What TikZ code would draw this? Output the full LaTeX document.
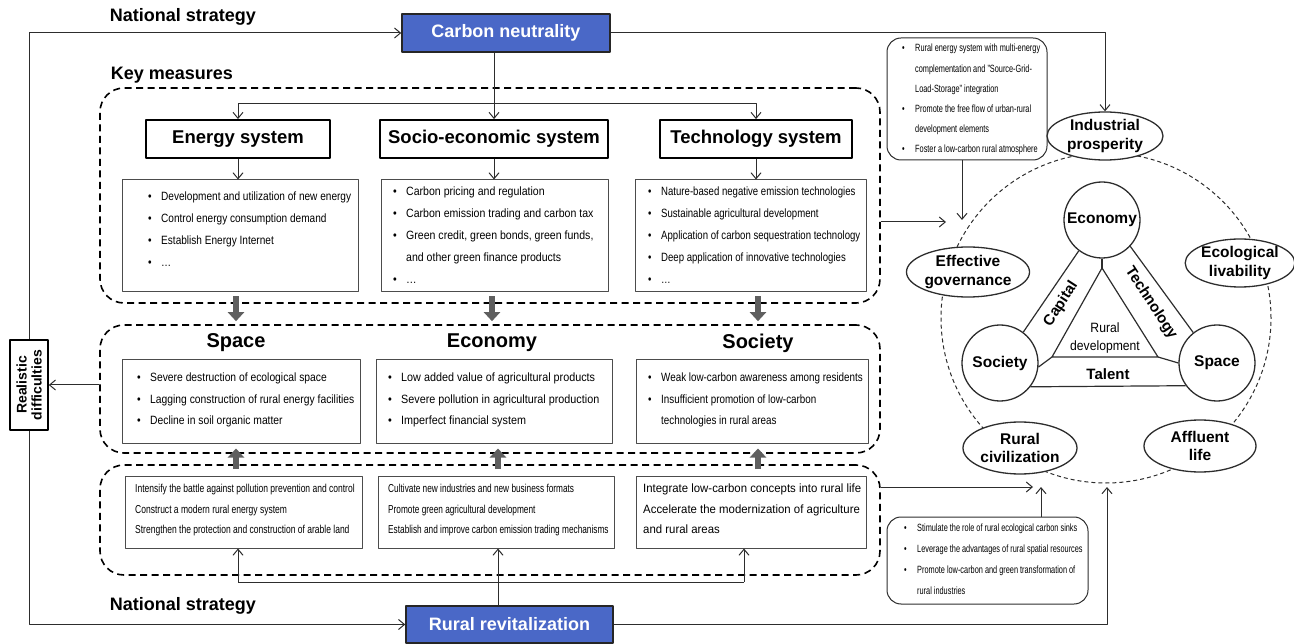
\documentclass[tikz,border=0pt]{standalone}
\usepackage{fontspec}
\setmainfont{Liberation Sans}
\usetikzlibrary{arrows.meta,shapes.geometric,calc}
\definecolor{cnblue}{RGB}{74,104,199}
\definecolor{lc}{RGB}{45,45,45}
\definecolor{garr}{RGB}{95,95,95}
\newlength\bw
\setlength\bw{13pt}
\newcommand\myb[1]{\makebox[\bw][l]{\textbullet}#1}
\newcommand\myc[1]{\hspace*{\bw}#1}
\newcommand\fs[3]{\fontsize{#1}{#2}\selectfont\addfontfeatures{FakeStretch=#3}}
\begin{document}
\begin{tikzpicture}[x=1pt,y=-1pt,line join=round,
  arr/.style={draw=lc,line width=1pt,-{Straight Barb[length=6pt,width=10pt]}},
  ln/.style={draw=lc,line width=1pt},
  garrow/.style={draw=garr,line width=6pt,-{Triangle[length=9pt,width=16pt]}},
  lab/.style={font=\fontsize{18}{20}\selectfont\bfseries},
  lab2/.style={font=\fontsize{20}{22}\selectfont\bfseries},
  bluebox/.style={draw=black!85,line width=1.5pt,fill=cnblue,text=white,font=\fontsize{18}{20}\selectfont\bfseries},
  dbox/.style={draw=black,line width=1.6pt,dash pattern=on 7pt off 4.5pt,rounded corners=24pt},
  hbox/.style={draw=black,line width=1.8pt,font=\fontsize{18.5}{20}\selectfont\bfseries,inner sep=0},
  cbox/.style={draw=black!70,line width=1pt},
  nbox/.style={draw=lc,line width=1pt,rounded corners=14pt},
  txt/.style={anchor=north west,inner sep=0,align=left},
  ell/.style={draw=lc,line width=1.3pt,ellipse,fill=white,inner sep=0,align=center,font=\fontsize{15.5}{18.5}\selectfont\bfseries},
  cir/.style={draw=lc,line width=1.3pt,circle,minimum size=76pt,inner sep=0,font=\fontsize{15.5}{18}\selectfont\bfseries},
  tl/.style={draw=lc,line width=1.2pt},
  rdbox/.style={draw=black,line width=1.5pt,align=center,inner sep=0,font=\fontsize{14}{15}\selectfont\bfseries}
]
\useasboundingbox (0,0) rectangle (1294,644);

% ---------- top ----------
\node[lab] (ns1) at (183,17) {National strategy};
\node[bluebox,minimum width=208pt,minimum height=38pt] (cn) at (506,33) {Carbon neutrality};
\node[lab] (km) at (172,75) {Key measures};

\node[rdbox,rotate=90,minimum width=90pt,minimum height=38pt] (rd) at (29,385) {Realistic\\difficulties};

% ---------- dashed groups ----------
\node[dbox,minimum width=780pt,minimum height=215pt] (D1) at (490,195.5) {};
\node[dbox,minimum width=780pt,minimum height=128pt] (D2) at (490,389) {};
\node[dbox,minimum width=780pt,minimum height=110pt] (D3) at (490,520) {};

% ---------- row 1 ----------
\node[hbox,minimum width=184pt,minimum height=38pt] (es) at (238,139) {Energy system};
\node[hbox,minimum width=228pt,minimum height=38pt] (ses) at (494,139) {Socio-economic system};
\node[hbox,minimum width=192pt,minimum height=38pt] (ts) at (756,139) {Technology system};

\node[cbox,minimum width=236pt,minimum height=112pt] (e1) at (240,236) {};
\node[cbox,minimum width=227pt,minimum height=112pt] (s1) at (494.5,236) {};
\node[cbox,minimum width=231pt,minimum height=112pt] (t1) at (750.5,236) {};

\node[txt,font=\fs{12}{22}{0.84}] (e1t) at (148,192) {\myb{Development and utilization of new energy}\\\myb{Control energy consumption demand}\\\myb{Establish Energy Internet}\\\myb{…}};
\node[txt,font=\fs{12}{22}{0.88}] (s1t) at (393,187) {\myb{Carbon pricing and regulation}\\\myb{Carbon emission trading and carbon tax}\\\myb{Green credit, green bonds, green funds,}\\\myc{and other green finance products}\\\myb{…}};
\node[txt,font=\fs{12}{22}{0.80}] (t1t) at (648,187) {\myb{Nature-based negative emission technologies}\\\myb{Sustainable agricultural development}\\\myb{Application of carbon sequestration technology}\\\myb{Deep application of innovative technologies}\\\myb{…}};

\coordinate (dist) at (494,104);
\draw[arr] (cn.south -| ses.north) -- (ses.north);
\draw[arr] (dist) -| (es.north);
\draw[arr] (dist) -| (ts.north);
\draw[arr] (es.south) -- (es.south |- e1.north);
\draw[arr] (ses.south) -- (ses.south |- s1.north);
\draw[arr] (ts.south) -- (ts.south |- t1.north);

% ---------- row 2 ----------
\node[lab2] (spH) at (236,343) {Space};
\node[lab2] (ecH) at (492,343) {Economy};
\node[lab2] (soH) at (758,343) {Society};

\node[cbox,minimum width=238pt,minimum height=83pt] (sp2) at (241,401.5) {};
\node[cbox,minimum width=236pt,minimum height=83pt] (ec2) at (494,401.5) {};
\node[cbox,minimum width=232pt,minimum height=83pt] (so2) at (752,401.5) {};

\node[txt,font=\fs{12}{21.5}{0.86}] (sp2t) at (137,373) {\myb{Severe destruction of ecological space}\\\myb{Lagging construction of rural energy facilities}\\\myb{Decline in soil organic matter}};
\node[txt,font=\fs{12}{21.5}{0.90}] (ec2t) at (388,373) {\myb{Low added value of agricultural products}\\\myb{Severe pollution in agricultural production}\\\myb{Imperfect financial system}};
\node[txt,font=\fs{12}{21.5}{0.82}] (so2t) at (648,373) {\myb{Weak low-carbon awareness among residents}\\\myb{Insufficient promotion of low-carbon}\\\myc{technologies in rural areas}};

\draw[garrow,shorten <=4pt,shorten >=3pt] (spH |- e1.south) -- (spH |- D2.north);
\draw[garrow,shorten <=4pt,shorten >=3pt] (ecH |- s1.south) -- (ecH |- D2.north);
\draw[garrow,shorten <=4pt,shorten >=3pt] (soH |- t1.south) -- (soH |- D2.north);

% ---------- row 3 ----------
\node[cbox,minimum width=237pt,minimum height=72pt] (b3l) at (243.5,512) {};
\node[cbox,minimum width=236pt,minimum height=72pt] (b3m) at (496,512) {};
\node[cbox,minimum width=230pt,minimum height=72pt] (b3r) at (751,512) {};

\node[txt,font=\fs{11.5}{20.5}{0.74}] (b3lt) at (135,484) {Intensify the battle against pollution prevention and control\\Construct a modern rural energy system\\Strengthen the protection and construction of arable land};
\node[txt,font=\fs{11.5}{20.5}{0.72}] (b3mt) at (388,484) {Cultivate new industries and new business formats\\Promote green agricultural development\\Establish and improve carbon emission trading mechanisms};
\node[txt,font=\fs{12}{20.5}{0.95}] (b3rt) at (643,484) {Integrate low-carbon concepts into rural life\\Accelerate the modernization of agriculture\\and rural areas};

\draw[garrow,shorten >=5pt] ([yshift=-5pt]spH |- D3.north) -- (spH |- sp2.south);
\draw[garrow,shorten >=5pt] ([xshift=6pt,yshift=-5pt]ecH |- D3.north) -- ([xshift=6pt]ecH |- ec2.south);
\draw[garrow,shorten >=5pt] ([yshift=-5pt]soH |- D3.north) -- (soH |- so2.south);

% ---------- bottom ----------
\node[lab] (ns2) at (183,606) {National strategy};
\node[bluebox,minimum width=207pt,minimum height=37pt] (rr) at (509.5,624.5) {Rural revitalization};

\coordinate (bdl) at (238,582);
\coordinate (bdm) at (498,582);
\coordinate (bdr) at (744,582);
\draw[arr] (rr.north -| bdm) -- (bdm |- b3m.south);
\draw[ln] (bdl) -- (bdr);
\draw[arr] (bdl) -- (bdl |- b3l.south);
\draw[arr] (bdr) -- (bdr |- b3r.south);

% ---------- left loop ----------
\draw[arr] (rd.east) |- (cn.west);
\draw[arr] (rd.west) |- (rr.west);
\draw[arr] (D2.west |- rd.south) -- (rd.south);

% ---------- right side ----------
\node[draw=lc,dash pattern=on 4pt off 3pt,line width=1pt,circle,minimum size=330pt,inner sep=0] (bc) at (1106,318) {};

\node[nbox,minimum width=160pt,minimum height=122pt] (n1) at (967,99) {};
\node[txt,font=\fs{10.5}{20.2}{0.70}] (n1t) at (902,44) {\myb{Rural energy system with multi-energy}\\\myc{complementation and "Source-Grid-}\\\myc{Load-Storage" integration}\\\myb{Promote the free flow of urban-rural}\\\myc{development elements}\\\myb{Foster a low-carbon rural atmosphere}};

\node[nbox,minimum width=201pt,minimum height=87pt] (n2) at (987.5,560.5) {};
\node[txt,font=\fs{10.5}{21}{0.70}] (n2t) at (904,524) {\myb{Stimulate the role of rural ecological carbon sinks}\\\myb{Leverage the advantages of rural spatial resources}\\\myb{Promote low-carbon and green transformation of}\\\myc{rural industries}};

\node[ell,minimum width=116pt,minimum height=48pt] (ip) at (1105,136) {Industrial\\prosperity};
\node[ell,minimum width=106pt,minimum height=50pt] (eg) at (968,272) {Effective\\governance};
\node[ell,minimum width=102pt,minimum height=48pt] (el) at (1240,263) {Ecological\\livability};
\node[ell,minimum width=114pt,minimum height=52pt] (rc) at (1020,448) {Rural\\civilization};
\node[ell,minimum width=112pt,minimum height=52pt] (al) at (1200,446) {Affluent\\life};

\draw[arr] (cn.east) -| (ip.north);
\coordinate (g1) at (946,222);
\coordinate (g2) at (962,220);
\draw[arr] (D1.east |- g1) -- (g1);
\draw[arr] (n1.south -| g2) -- (g2);
\coordinate (g3) at (1033,487);
\coordinate (g4) at (1041,487);
\coordinate (g5) at (1107,487);
\draw[arr] (D3.east |- g3) -- (g3);
\draw[arr] (n2.north -| g4) -- (g4);
\draw[arr] (rr.east) -| (g5);

% inner triangle
\node[cir] (ec) at (1102,220) {Economy};
\node[cir] (so) at (1000,363) {Society};
\node[cir] (sc) at (1217,363) {Space};
\coordinate (A) at (1102,268);
\coordinate (B) at (1052,357);
\coordinate (C) at (1158,357);
\draw[tl] (ec.233) -- (so.53);
\draw[tl] (ec.317) -- (sc.128);
\draw[tl] (so.322) -- (sc.216);
\draw[tl] (ec.south) -- (A);
\draw[tl] (A) -- (B) -- (C) -- cycle;
\draw[tl] (so.354) -- (B);
\draw[tl] (C) -- (sc.west);

\node[font=\fontsize{15}{17}\selectfont\bfseries,rotate=57,inner sep=0pt] (cap) at (1061,304) {Capital};
\node[font=\fontsize{15}{17}\selectfont\bfseries,rotate=-57,inner sep=0pt] (tech) at (1151,303) {Technology};
\node[font=\fs{13.5}{18}{0.9},align=center,inner sep=0pt] (rdev) at (1105,338) {Rural\\development};
\node[font=\fontsize{15}{17}\selectfont\bfseries,inner sep=0pt] (tal) at (1108,374) {Talent};
\end{tikzpicture}
\end{document}
